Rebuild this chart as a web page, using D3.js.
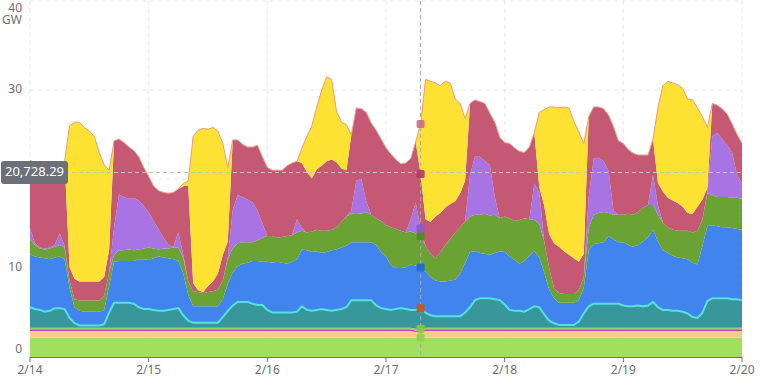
<!DOCTYPE html>
<html>
<head>
<meta charset="utf-8">
<script src="https://cdn.jsdelivr.net/npm/d3@7"></script>
<style>
  body { margin: 0; background: #fff; }
  svg { display: block; font-family: "Noto Sans", sans-serif; }
</style>
</head>
<body>
<svg id="chart" width="763" height="378"></svg>
<script>
// hourly samples, 2/14 00:00 -> 2/20 00:00 (145 points), values in GW
const startTime = new Date(2025, 1, 14, 0, 0);
const dayLabels = ['2/14', '2/15', '2/16', '2/17', '2/18', '2/19', '2/20'];
const yTicks = [0, 10, 20, 30, 40];
const unit = 'GW';
const pointerIndex = 79;
const pointerValue = 20728.29; // MW, read on the y axis pointer

const base = [
  2.2,2.2,2.2,2.2,2.2,2.2,2.2,2.2,2.2,2.2,2.2,2.2,2.2,2.2,2.2,2.2,2.2,2.2,2.2,2.2,2.2,2.2,2.2,2.2,
  2.2,2.2,2.2,2.2,2.2,2.2,2.2,2.2,2.2,2.2,2.2,2.2,2.2,2.2,2.2,2.2,2.2,2.2,2.2,2.2,2.2,2.2,2.2,2.2,
  2.2,2.2,2.2,2.2,2.2,2.2,2.2,2.2,2.2,2.2,2.2,2.2,2.2,2.2,2.2,2.2,2.2,2.2,2.2,2.2,2.2,2.2,2.2,2.2,
  2.2,2.2,2.2,2.2,2.2,2.2,2.2,2.2,2.2,2.2,2.2,2.2,2.2,2.2,2.2,2.2,2.2,2.2,2.2,2.2,2.2,2.2,2.2,2.2,
  2.2,2.2,2.2,2.2,2.2,2.2,2.2,2.2,2.2,2.2,2.2,2.2,2.2,2.2,2.2,2.2,2.2,2.2,2.2,2.2,2.2,2.2,2.2,2.2,
  2.2,2.2,2.2,2.2,2.2,2.2,2.2,2.2,2.2,2.2,2.2,2.2,2.2,2.2,2.2,2.2,2.2,2.2,2.2,2.2,2.2,2.2,2.2,2.2,
  2.2
];
const peach = [
  0.72,0.72,0.72,0.72,0.72,0.72,0.72,0.72,0.72,0.72,0.72,0.72,0.72,0.72,0.72,0.72,0.72,0.72,0.72,0.72,0.72,0.72,0.72,0.72,
  0.72,0.72,0.72,0.72,0.72,0.72,0.72,0.72,0.72,0.72,0.72,0.72,0.72,0.72,0.72,0.72,0.72,0.72,0.72,0.72,0.72,0.72,0.72,0.72,
  0.72,0.72,0.72,0.72,0.72,0.72,0.72,0.72,0.72,0.72,0.72,0.72,0.72,0.72,0.72,0.72,0.72,0.72,0.72,0.72,0.72,0.72,0.72,0.72,
  0.72,0.72,0.72,0.72,0.72,0.72,0.6,0.6,0.72,0.72,0.72,0.72,0.72,0.72,0.72,0.72,0.72,0.72,0.72,0.72,0.72,0.72,0.72,0.72,
  0.72,0.72,0.72,0.72,0.72,0.72,0.72,0.72,0.72,0.72,0.72,0.72,0.72,0.72,0.72,0.72,0.72,0.72,0.72,0.72,0.72,0.72,0.72,0.72,
  0.72,0.72,0.72,0.72,0.72,0.72,0.72,0.72,0.72,0.72,0.72,0.72,0.72,0.72,0.72,0.72,0.72,0.72,0.72,0.72,0.72,0.72,0.72,0.72,
  0.72
];
const magenta = [
  0.19,0.19,0.19,0.19,0.19,0.19,0.19,0.19,0.19,0.19,0.19,0.19,0.19,0.19,0.19,0.19,0.19,0.19,0.19,0.19,0.19,0.19,0.19,0.19,
  0.19,0.19,0.19,0.19,0.19,0.19,0.19,0.19,0.19,0.19,0.19,0.19,0.19,0.19,0.19,0.19,0.19,0.19,0.19,0.19,0.19,0.19,0.19,0.19,
  0.19,0.19,0.19,0.19,0.19,0.19,0.19,0.19,0.19,0.19,0.19,0.19,0.19,0.19,0.19,0.19,0.19,0.19,0.19,0.19,0.19,0.19,0.19,0.19,
  0.19,0.19,0.19,0.19,0.19,0.19,0.19,0.19,0.19,0.19,0.19,0.19,0.19,0.19,0.19,0.19,0.19,0.19,0.19,0.19,0.19,0.19,0.19,0.19,
  0.19,0.19,0.19,0.19,0.19,0.19,0.19,0.19,0.19,0.19,0.19,0.19,0.19,0.19,0.19,0.19,0.19,0.19,0.19,0.19,0.19,0.19,0.19,0.19,
  0.19,0.19,0.19,0.19,0.19,0.19,0.19,0.19,0.19,0.19,0.19,0.19,0.19,0.19,0.19,0.19,0.19,0.19,0.19,0.19,0.19,0.19,0.19,0.19,
  0.19
];
const thinGreen = [
  0.18,0.18,0.18,0.18,0.18,0.18,0.18,0.18,0.18,0.18,0.18,0.18,0.18,0.18,0.18,0.18,0.18,0.18,0.18,0.18,0.18,0.18,0.18,0.18,
  0.18,0.18,0.18,0.18,0.18,0.18,0.18,0.18,0.18,0.18,0.18,0.18,0.18,0.18,0.18,0.18,0.18,0.18,0.18,0.18,0.18,0.18,0.18,0.18,
  0.18,0.18,0.18,0.18,0.18,0.18,0.18,0.18,0.18,0.18,0.18,0.18,0.18,0.18,0.18,0.18,0.18,0.18,0.18,0.18,0.18,0.18,0.18,0.18,
  0.18,0.18,0.18,0.18,0.18,0.18,0.18,0.18,0.18,0.18,0.18,0.18,0.18,0.18,0.18,0.18,0.18,0.18,0.18,0.18,0.18,0.18,0.18,0.18,
  0.18,0.18,0.18,0.18,0.18,0.18,0.18,0.18,0.18,0.18,0.18,0.18,0.18,0.18,0.18,0.18,0.18,0.18,0.18,0.18,0.18,0.18,0.18,0.18,
  0.18,0.18,0.18,0.18,0.18,0.18,0.18,0.18,0.18,0.18,0.18,0.18,0.18,0.18,0.18,0.18,0.18,0.18,0.18,0.18,0.18,0.18,0.18,0.18,
  0.18
];
const teal = [
  2.3,2.1,2.0,1.8,1.9,2.2,2.2,2.1,1.1,0.5,0.25,0.25,0.25,0.25,0.25,0.4,1.7,2.8,2.8,2.8,2.8,2.7,2.3,2.1,
  2.1,2.0,1.9,1.9,2.0,2.1,2.2,1.4,0.8,0.55,0.55,0.55,0.55,0.55,0.55,1.2,1.9,2.5,2.9,2.9,2.9,2.7,2.55,2.55,
  2.0,1.7,1.7,1.7,1.7,1.7,1.8,2.4,2.0,1.9,2.0,2.1,2.0,1.9,2.0,2.1,2.3,3.1,3.1,3.1,3.1,3.1,2.5,2.2,
  2.1,2.0,2.1,2.2,2.1,2.0,2.1,2.3,1.7,1.4,1.3,1.3,1.3,1.3,1.3,1.3,1.7,2.3,3.1,3.3,3.3,3.3,3.2,3.1,
  2.6,2.0,1.9,1.9,1.8,2.1,2.4,2.3,1.5,0.8,0.5,0.3,0.3,0.3,0.3,0.7,1.6,2.4,2.7,2.7,2.7,2.7,2.7,2.7,
  2.5,2.4,2.4,2.5,2.4,2.5,2.9,2.3,2.0,2.0,1.9,1.9,1.8,1.6,1.2,1.1,1.7,3.0,3.3,3.3,3.3,3.3,3.2,3.2,
  3.1
];
const blue = [
  6.0,5.9,5.9,6.0,5.8,5.7,5.8,5.6,3.4,1.8,1.65,1.55,1.55,1.55,1.55,1.6,3.0,4.6,4.7,4.7,4.7,4.8,5.4,5.6,
  5.5,5.8,6.1,6.0,5.8,5.6,5.3,4.7,2.9,1.85,1.85,1.85,1.85,1.85,1.85,2.0,3.0,3.7,4.0,4.3,4.4,4.8,4.95,4.85,
  5.4,5.6,5.7,5.6,5.5,5.7,5.9,6.4,6.7,6.6,6.6,6.3,6.5,6.8,6.8,6.9,6.9,6.5,6.5,6.5,6.5,6.5,6.8,6.3,
  5.9,5.0,4.6,4.5,4.7,5.1,5.0,4.6,4.6,4.3,4.0,3.9,3.9,4.0,4.1,4.8,5.6,6.2,5.5,5.1,5.0,4.9,5.2,5.5,
  5.9,6.0,5.7,5.3,5.7,6.0,6.2,5.6,4.7,3.5,2.8,2.5,2.5,2.5,2.5,2.4,2.9,6.3,6.7,6.8,6.9,7.6,7.2,6.9,
  7.1,6.9,6.7,6.8,7.3,7.7,8.1,7.4,6.7,6.4,6.2,6.0,6.0,6.1,6.1,6.0,7.5,8.4,8.2,8.1,8.0,8.0,8.0,7.9,
  7.9
];
const green = [
  1.7,1.3,1.0,1.0,1.2,1.2,1.3,1.3,0.8,0.9,1.15,1.25,1.25,1.25,1.25,1.6,1.5,0.8,1.2,1.2,1.3,1.2,1.1,1.2,
  1.4,1.1,0.8,1.0,1.1,1.3,1.5,1.7,1.5,1.7,1.6,1.5,1.6,1.7,1.9,2.1,2.8,2.7,2.6,2.4,2.3,2.1,2.3,2.7,
  2.9,3.0,2.7,2.9,3.1,3.0,3.0,2.1,2.0,2.3,2.4,2.5,2.4,2.3,2.5,2.9,3.3,3.2,3.3,3.2,3.4,3.1,3.0,3.5,
  3.5,4.3,4.4,4.2,3.9,3.7,3.6,3.5,2.9,2.6,2.5,3.3,4.1,4.7,5.3,5.2,4.6,4.0,4.1,4.3,4.5,4.4,4.3,3.7,
  4.0,4.3,4.4,4.9,4.8,4.1,3.5,3.8,3.5,2.4,1.1,1.1,1.0,1.0,1.0,1.1,1.2,2.5,3.3,3.4,3.4,2.6,2.8,3.1,
  3.1,3.5,3.6,3.7,3.8,3.6,2.8,3.0,3.1,2.9,2.9,3.0,3.1,3.2,3.4,3.8,3.0,3.7,3.4,3.3,3.4,3.4,3.4,3.5,
  3.5
];
const purple = [
  1.2,0.2,0.1,0.1,0.1,0.2,1.3,0.2,0,0,0,0,0,0,0,0,0,3.0,6.3,6.0,5.7,5.9,5.5,4.8,
  4.0,3.1,2.3,1.2,0.4,0.1,1.7,0.4,0,0,0,0,0,0,0,0,0.2,4.3,5.4,5.1,4.8,4.5,3.4,1.6,
  0,0,0,0,0,0,1.5,0.3,0,0,0,0,0,0,0,0,0,0.4,3.6,3.9,1.2,0,0,0,
  0,0,0,0,0,1.4,3.5,0.9,0,0,0,0,0,0,0,0,0,4.7,6.5,6.5,5.9,5.7,2.0,0,
  0,0,0,0,0,0,4.1,3.5,0,0,0,0,0,0,0,0,0,3.5,6.3,6.2,5.7,4.8,0.5,0,
  0,0,0,0,0,0,3.4,1.0,0,0,0,0,0,0,0,0,0,0.1,6.6,7.2,6.5,5.8,5.1,2.6,
  1.7
];
const red = [
  7.6,9.1,9.3,9.2,9.0,8.8,7.8,9.5,1.5,2.3,2.15,2.15,2.15,2.15,2.15,2.1,2.5,9.8,6.2,6.1,5.8,5.3,4.9,4.3,
  4.0,3.9,4.3,5.1,5.8,6.1,4.9,7.7,10.8,0.9,0.2,0.1,0.7,1.1,1.8,2.9,1.8,7.9,6.2,5.9,5.9,6.2,7.3,7.5,
  7.7,7.4,7.6,7.5,7.9,8.1,6.5,7.3,6.8,6.0,6.8,7.3,7.8,7.9,7.3,6.0,5.2,8.5,8.2,7.9,10.0,10.3,9.9,9.2,
  8.7,8.2,7.8,7.5,7.8,6.8,6.8,6.1,3.0,3.6,4.7,4.4,4.2,3.9,3.5,3.8,4.6,8.0,6.4,6.2,6.5,5.8,8.4,9.1,
  8.3,8.4,8.2,7.7,7.4,8.1,5.7,0.6,4.0,3.8,5.1,5.2,4.8,4.4,4.0,3.2,2.6,9.0,5.8,5.7,5.9,6.2,9.4,8.3,
  8.0,7.2,6.9,6.4,5.9,5.6,4.0,2.6,3.5,3.3,3.3,3.1,2.7,2.0,2.1,2.7,2.2,0.5,3.7,3.1,3.4,3.5,3.2,4.5,
  4.5
];
const solar = [
  0,0,0,0,0,0,0,0,15.9,17.6,17.9,17.3,16.9,16.3,14.5,12.6,9.0,0,0,0,0,0,0,0,
  0,0,0,0,0,0,0,0.3,0.5,16.5,18.0,18.4,17.6,17.3,16.0,12.5,8.3,0,0,0,0,0,0,0,
  0,0,0,0,0,0,0,1.7,4.0,5.9,7.0,8.5,9.5,9.0,5.7,5.2,5.1,0,0,0,0,0,0,0,
  0,0,0,0,0,0,0,5.6,15.7,15.8,15.0,14.3,14.2,13.6,11.5,10.1,7.0,0,0,0,0,0,0,0,
  0,0,0,0,0,0,0,8.4,10.8,14.3,15.3,15.6,16.2,16.5,15.4,14.6,12.4,0,0,0,0,0,0,0,
  0,0,0,0,0,0,0,8.4,11.9,13.1,13.2,13.3,13.3,12.8,12.8,11.1,9.3,6.8,0,0,0,0,0,0,
  0
];

const seriesData = { base, peach, magenta, thinGreen, teal, blue, green, purple, red, solar };
const keys = ['base', 'peach', 'magenta', 'thinGreen', 'teal', 'blue', 'green', 'purple', 'red', 'solar'];
const colors = {
  base: '#a2df5e', peach: '#fdc991', magenta: '#d13fb5', thinGreen: '#91d36a', teal: '#37979a',
  blue: '#4184ee', green: '#6aa234', purple: '#a873e2', red: '#c55973', solar: '#fee233'
};
const markerColors = {
  base: '#8fd24e', thinGreen: '#86c940', teal: '#c4570e', blue: '#1f66d6',
  green: '#4e8a1f', purple: '#8f55cf', red: '#b7385f', solar: '#cf6a82'
};

const width = 763, height = 378;
const margin = { left: 30, right: 21, top: 1, bottom: 21 };

const rows = base.map((_, i) => {
  const r = { time: d3.timeHour.offset(startTime, i) };
  keys.forEach(k => { r[k] = seriesData[k][i]; });
  return r;
});

const x = d3.scaleTime()
  .domain([startTime, d3.timeDay.offset(startTime, dayLabels.length - 1)])
  .range([margin.left, width - margin.right]);
const y = d3.scaleLinear().domain([0, 40]).range([height - margin.bottom, margin.top]);

const svg = d3.select('#chart');
const dayTicks = dayLabels.map((_, i) => d3.timeDay.offset(startTime, i));

// grid
const grid = svg.append('g').attr('stroke', '#e6e6e6').attr('stroke-dasharray', '4,4');
grid.selectAll('line.v').data(dayTicks).join('line')
  .attr('x1', d => x(d)).attr('x2', d => x(d))
  .attr('y1', y(40)).attr('y2', y(0));
grid.selectAll('line.h').data(yTicks.slice(1)).join('line')
  .attr('x1', x.range()[0]).attr('x2', x.range()[1])
  .attr('y1', d => y(d)).attr('y2', d => y(d));

// stacked areas
const stacked = d3.stack().keys(keys)(rows);
const area = d3.area()
  .x(d => x(d.data.time))
  .y0(d => y(d[0]))
  .y1(d => y(d[1]));

svg.append('g').selectAll('path').data(stacked).join('path')
  .attr('fill', d => colors[d.key])
  .attr('d', area);

const topLine = d3.line().x(d => x(d.data.time)).y(d => y(d[1]));
const byKey = {};
stacked.forEach(s => { byKey[s.key] = s; });

svg.append('path').datum(byKey.teal)
  .attr('fill', 'none').attr('stroke', '#52e2df').attr('stroke-width', 2)
  .attr('d', topLine);
svg.append('path').datum(byKey.solar)
  .attr('fill', 'none').attr('stroke', '#ec9a82').attr('stroke-width', 1)
  .attr('d', topLine);

// x axis
const axis = svg.append('g');
axis.append('line')
  .attr('x1', x.range()[0]).attr('x2', x.range()[1])
  .attr('y1', y(0) + 0.5).attr('y2', y(0) + 0.5)
  .attr('stroke', '#6e7079');
axis.selectAll('line.tick').data(dayTicks).join('line')
  .attr('x1', d => x(d)).attr('x2', d => x(d))
  .attr('y1', y(0)).attr('y2', y(0) + 5)
  .attr('stroke', '#6e7079');
axis.selectAll('text.xl').data(dayTicks).join('text')
  .attr('x', d => x(d)).attr('y', y(0) + 14)
  .attr('text-anchor', 'middle').attr('dominant-baseline', 'middle')
  .attr('font-size', 12).attr('fill', '#6e7079')
  .text((d, i) => dayLabels[i]);

// axis pointer value
const px = x(rows[pointerIndex].time);
const py = y(pointerValue / 1000);

// y labels (the one under the pointer label is hidden, as in the chart)
const yl = svg.append('g').attr('font-size', 12).attr('fill', '#6e7079').attr('text-anchor', 'end');
yTicks.forEach(v => {
  let cy = y(v);
  if (Math.abs(cy - py) < 14) return;
  if (v === 0) {
    yl.append('text').attr('x', 22).attr('y', cy - 7).attr('dominant-baseline', 'middle').text(v);
  } else if (v === 40) {
    // max label carries the unit on a second line
    const t = yl.append('text').attr('x', 22).attr('y', cy + 11);
    t.append('tspan').attr('x', 22).text(v);
    t.append('tspan').attr('x', 22).attr('dy', 12).text(unit);
  } else {
    yl.append('text').attr('x', 22).attr('y', cy).attr('dominant-baseline', 'middle').text(v);
  }
});

const pointer = svg.append('g').attr('stroke', '#a8a8a8').attr('stroke-dasharray', '4,3');
pointer.append('line').attr('x1', px).attr('x2', px).attr('y1', y(40)).attr('y2', y(0));
pointer.append('line').attr('x1', x.range()[0]).attr('x2', x.range()[1]).attr('y1', py).attr('y2', py)
  .attr('stroke', '#c4c4c4');

const markerKeys = ['base', 'thinGreen', 'teal', 'blue', 'green', 'purple', 'red', 'solar'];
svg.append('g').selectAll('rect').data(markerKeys).join('rect')
  .attr('x', px - 4).attr('y', k => y(byKey[k][pointerIndex][1]) - 4)
  .attr('width', 8).attr('height', 8).attr('rx', 1.5)
  .attr('fill', k => markerColors[k]).attr('fill-opacity', 0.9);

const labelG = svg.append('g');
labelG.append('rect')
  .attr('x', 1).attr('y', py - 11.5).attr('width', 67).attr('height', 23).attr('rx', 3)
  .attr('fill', '#6e7079');
labelG.append('text')
  .attr('x', 34.5).attr('y', py).attr('text-anchor', 'middle').attr('dominant-baseline', 'middle')
  .attr('font-size', 13).attr('fill', '#fff')
  .text(d3.format(',.2f')(pointerValue));
</script>
</body>
</html>
